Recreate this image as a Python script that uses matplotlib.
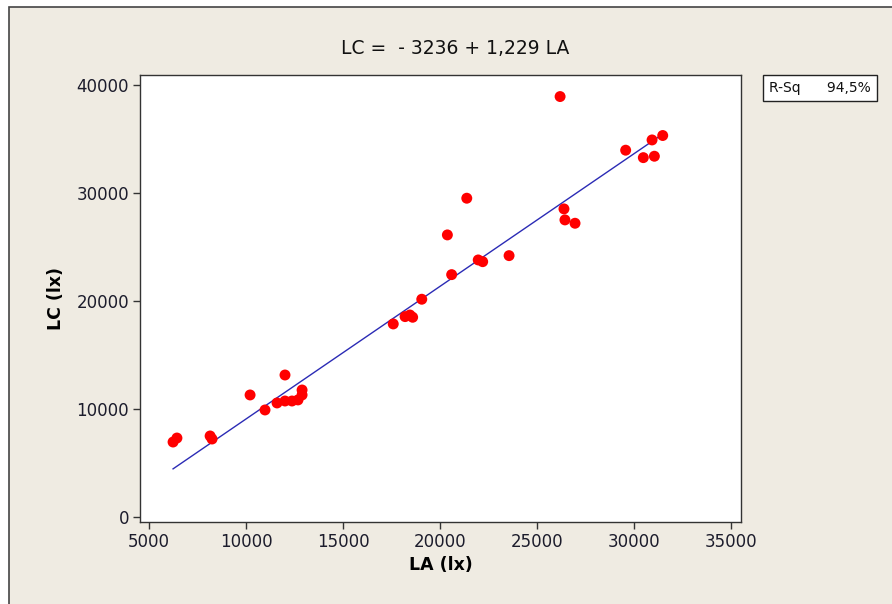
import numpy as np
import matplotlib
matplotlib.use("Agg")
import matplotlib.pyplot as plt
from matplotlib.patches import Rectangle

# data
la = [6240, 6440, 8150, 8250, 10210, 10980, 11600, 12010, 12010, 12370, 12680,
      12890, 12890, 17590, 18200, 18450, 18590, 19060, 20380, 20600, 21380,
      21970, 22200, 23560, 26190, 26390, 26440, 26960, 29570, 30480, 30930,
      31050, 31480]
lc = [6920, 7290, 7480, 7200, 11280, 9890, 10540, 13130, 10720, 10720, 10820,
      11280, 11740, 17860, 18540, 18690, 18480, 20150, 26110, 22430, 29510,
      23790, 23630, 24190, 38930, 28520, 27500, 27190, 33960, 33270, 34910,
      33400, 35320]
intercept = -3236
slope = 1.229
title = "LC =  - 3236 + 1,229 LA"
rsq_label = "R-Sq"
rsq_value = "94,5%"

bg = '#EFEBE2'
fig = plt.figure(figsize=(8.92, 6.04), dpi=100, facecolor='white')
frame = Rectangle((9/892, -0.05), 1.1, 1.05 - 7/604, transform=fig.transFigure,
                  facecolor=bg, edgecolor='#444444', linewidth=1.2, zorder=-10)
fig.patches.append(frame)

ax = fig.add_axes([140/892, 82.3/604, 601/892, 446.7/604])
ax.set_facecolor('white')

xs = np.array([min(la), max(la)])
ax.plot(xs, intercept + slope*xs, color='#2B2BB5', linewidth=1.0, zorder=2)
ax.scatter(la, lc, s=62, color='#FF0000', edgecolors='none', zorder=3)

ax.set_xlim(4536, 35515)
ax.set_ylim(-463, 40927)
ax.set_xticks(range(5000, 35001, 5000))
ax.set_yticks(range(0, 40001, 10000))
ax.tick_params(direction='out', length=5, width=1, color='#333333',
               labelsize=12, labelcolor='#1c1c2c', pad=3)
for sp in ax.spines.values():
    sp.set_color('#333333')
    sp.set_linewidth(1)

ax.set_xlabel("LA (lx)", fontsize=12.5, fontweight='bold', labelpad=4)
ax.set_ylabel("LC (lx)", fontsize=12.5, fontweight='bold', labelpad=8)

fig.text(455/892, 1 - 48/604, title, ha='center', va='center', fontsize=13.5, color='#111111')

fig.text(820/892, 1 - 88/604, rsq_label + "      " + rsq_value, ha='center', va='center',
         fontsize=10, color='#111111',
         bbox=dict(boxstyle='square,pad=0.45', facecolor='white', edgecolor='#222222', linewidth=1))

fig.savefig('out.png', dpi=100, facecolor=fig.get_facecolor())
